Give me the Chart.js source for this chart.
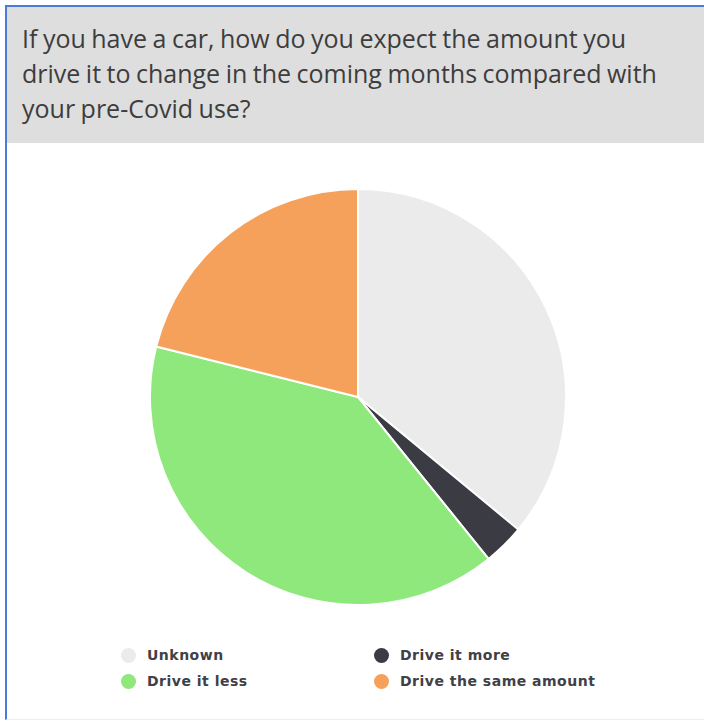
<!DOCTYPE html>
<html>
<head>
<meta charset="utf-8">
<script src="https://cdn.jsdelivr.net/npm/chart.js@4"></script>
<style>
    body { margin: 0; width: 704px; height: 722px; background: #fff; overflow: hidden; font-family: "Open Sans", sans-serif; }
    .frame { position: absolute; left: 5px; top: 5px; right: 0; bottom: 2px; border-top: 2px solid #4a7bd6; border-left: 2px solid #4a7bd6; border-bottom: 1px solid #eee; }
    .head { position: absolute; left: 0; top: 0; right: 0; height: 136px; background: #dedede; }
    .head h1 { margin: 0; padding: 14px 0 0 15px; font-size: 25px; font-weight: 400; line-height: 35px; word-spacing: -1px; color: #3d3d3d; }
    .pie-wrap { position: absolute; left: 149px; top: 188px; width: 418px; height: 418px; }
    .legend { position: absolute; top: 647px; left: 0; width: 704px; font-family: "DejaVu Sans", sans-serif; font-weight: bold; font-size: 14px; letter-spacing: 0.5px; color: #404048; }
    .legend .item { position: absolute; white-space: nowrap; }
    .legend .dot { position: absolute; width: 15px; height: 15px; border-radius: 50%; top: 1px; }
    .legend .txt { position: absolute; left: 26px; top: 0; }
</style>
</head>
<body>
<div class="frame">
    <div class="head"><h1>If you have a car, how do you expect the amount you<br>drive it to change in the coming months compared with<br>your pre-Covid use?</h1></div>
</div>
<div class="pie-wrap"><canvas id="pieChart" width="418" height="418"></canvas></div>
<div class="legend" id="legendBox"></div>

<script>
// --- DATA ---
const answerLabels = ['Unknown', 'Drive it more', 'Drive it less', 'Drive the same amount'];
const answerShares = [36.0, 3.2, 39.7, 21.1];
const sliceColors = ['#ebebeb', '#3b3b43', '#8ee87b', '#f6a15b'];

// legend grid slots (column, row) for each answer
const legendSlots = [[0, 0], [1, 0], [0, 1], [1, 1]];

const ctx = document.getElementById('pieChart').getContext('2d');
const pieChart = new Chart(ctx, {
    type: 'pie',
    data: {
        labels: answerLabels,
        datasets: [{ data: answerShares, backgroundColor: sliceColors, borderColor: '#ffffff', borderWidth: 2 }]
    },
    options: {
        responsive: false,
        animation: false,
        layout: { padding: 0 },
        plugins: { legend: { display: false }, tooltip: { enabled: false } }
    }
});

// build the html legend from the chart's own labels
const box = document.getElementById('legendBox');
const colX = [121, 374];
const rowY = [0, 26];
pieChart.options.plugins.legend.labels.generateLabels(pieChart).forEach((lab, i) => {
    const [c, r] = legendSlots[i];
    const el = document.createElement('div');
    el.className = 'item';
    el.style.left = colX[c] + 'px';
    el.style.top = rowY[r] + 'px';
    el.innerHTML = `<span class="dot" style="background:${lab.fillStyle}"></span><span class="txt">${lab.text}</span>`;
    box.appendChild(el);
});
</script>
</body>
</html>
